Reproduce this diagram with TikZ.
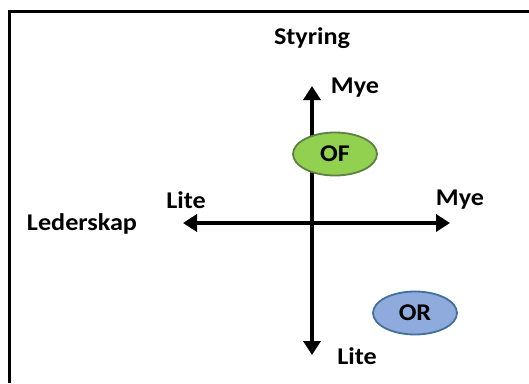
\documentclass[tikz,border=0pt]{standalone}
\usepackage{fontspec}
\setmainfont{Carlito}[FakeStretch=1.09]
\usetikzlibrary{shapes.geometric,arrows.meta}
\definecolor{ofgreen}{HTML}{92D050}
\definecolor{ofedge}{HTML}{5F7F45}
\definecolor{orblue}{HTML}{8FAADC}
\definecolor{oredge}{HTML}{41719C}
\tikzset{
  lbl/.style={font=\fontsize{24}{26}\selectfont\bfseries, text=black, inner sep=0pt},
  axis/.style={line width=4.5pt, -{Triangle[length=14pt,width=17pt]}},
  blob/.style={ellipse, line width=1.8pt, minimum width=84pt, minimum height=43pt, inner sep=0pt,
    font=\fontsize{24}{26}\selectfont\bfseries}
}
\begin{document}
\begin{tikzpicture}[x=1pt,y=-1pt]
\useasboundingbox (0,0) rectangle (529,383);
\fill[white] (0,0) rectangle (529,383);
\draw[line width=3pt] (529,11) -- (9,11) -- (9,383);
\coordinate (c) at (312,223);
\coordinate (top) at (312,86);
\coordinate (bot) at (312,355);
\coordinate (lft) at (183,223);
\coordinate (rgt) at (450,223);
\draw[axis] (c) -- (top);
\draw[axis] (c) -- (bot);
\draw[axis] (c) -- (lft);
\draw[axis] (c) -- (rgt);
\node[lbl] (sty) at (312,38) {Styring};
\node[lbl] (myetop) at (355,88) {Mye};
\node[lbl] (litel) at (186,200) {Lite};
\node[lbl] (myer) at (460,200) {Mye};
\node[lbl] (led) at (82,224) {Lederskap};
\node[lbl] (liteb) at (357,356) {Lite};
\node[blob, fill=ofgreen, draw=ofedge] (of) at (335,154) {OF};
\node[blob, fill=orblue, draw=oredge] (or) at (415,313) {OR};
\end{tikzpicture}
\end{document}
